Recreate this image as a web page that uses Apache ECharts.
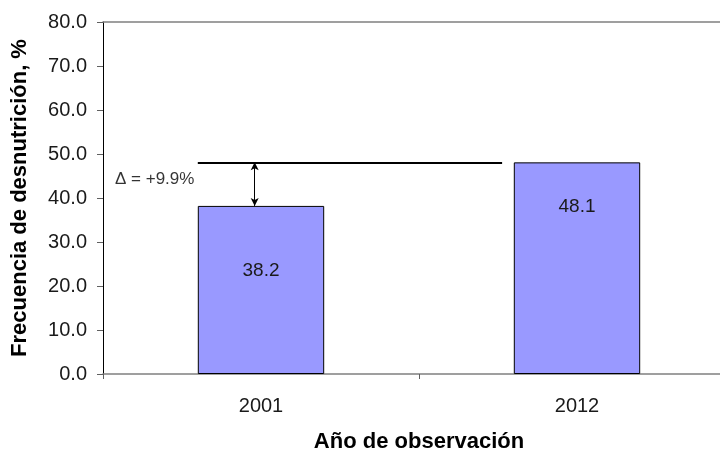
<!DOCTYPE html>
<html>
<head>
<meta charset="utf-8">
<script src="https://cdn.jsdelivr.net/npm/echarts@6/dist/echarts.min.js"></script>
<style>
  html, body { margin: 0; padding: 0; background: #fff; }
  #chart { width: 720px; height: 453px; }
</style>
</head>
<body>
<div id="chart"></div>
<script>
// datos
const years = ['2001', '2012']
const frecuencia = [38.2, 48.1]
const yTicks = { min: 0, max: 80, interval: 10 }

// distancia de la etiqueta desde el borde superior de cada barra
const labelDist = [55, 35]

const font = 'Liberation Sans, Arial, sans-serif'
const delta = (frecuencia[1] - frecuencia[0]).toFixed(1)

const chart = echarts.init(document.getElementById('chart'))
chart.setOption({
  animation: false,
  backgroundColor: '#fff',
  grid: {
    left: 103, top: 22, width: 632, height: 352,
    containLabel: false, outerBoundsMode: 'none'
  },
  xAxis: [
    {
      type: 'category',
      data: years,
      position: 'bottom',
      boundaryGap: true,
      axisLine: { lineStyle: { color: '#808080', width: 1.5 } },
      axisTick: { show: true, length: 5, lineStyle: { color: '#606060' } },
      axisLabel: { fontFamily: font, fontSize: 20, color: '#1a1a1a', margin: 22 },
      name: 'Año de observación',
      nameLocation: 'middle',
      nameGap: 57,
      nameTextStyle: { fontFamily: font, fontSize: 22, fontWeight: 'bold', color: '#000' }
    },
    {
      // eje auxiliar: borde superior y anotación
      type: 'value',
      min: 0, max: 2,
      position: 'top',
      axisLine: { show: true, lineStyle: { color: '#808080', width: 1.5 } },
      axisTick: { show: false },
      axisLabel: { show: false },
      splitLine: { show: false }
    }
  ],
  yAxis: {
    type: 'value',
    min: yTicks.min, max: yTicks.max, interval: yTicks.interval,
    axisLine: { show: true, lineStyle: { color: '#000', width: 1 } },
    axisTick: { show: true, length: 6, lineStyle: { color: '#606060' } },
    splitLine: { show: false },
    axisLabel: {
      fontFamily: font, fontSize: 20, color: '#1a1a1a', margin: 16,
      formatter: function (v) { return v.toFixed(1) }
    },
    name: 'Frecuencia de desnutrición, %',
    nameLocation: 'middle',
    nameRotate: 90,
    nameGap: 72,
    nameTextStyle: { fontFamily: font, fontSize: 22, fontWeight: 'bold', color: '#000' }
  },
  series: [
    {
      type: 'bar',
      barWidth: '40%',
      data: frecuencia.map(function (v, i) {
        return { value: v, label: { distance: labelDist[i] } }
      }),
      itemStyle: { color: '#9999ff', borderColor: '#000', borderWidth: 1 },
      label: {
        show: true,
        position: 'insideTop',
        fontFamily: font, fontSize: 19, color: '#1a1a1a',
        formatter: function (p) { return p.value.toFixed(1) }
      }
    },
    {
      // anotación de la diferencia
      type: 'scatter',
      xAxisIndex: 1,
      symbolSize: 0,
      data: [[0.038, 44.3]],
      label: {
        show: true,
        position: 'right',
        distance: 0,
        fontFamily: font, fontSize: 17, color: '#000',
        formatter: '\u0394 = +' + delta + '%'
      },
      markLine: {
        silent: true,
        label: { show: false },
        data: [
          [
            { coord: [0.3, frecuencia[1]], symbol: 'none', lineStyle: { width: 2 } },
            { coord: [1.263, frecuencia[1]], symbol: 'none' }
          ],
          [
            { coord: [0.48, frecuencia[1]], symbol: 'arrow', symbolSize: [6, 8] },
            { coord: [0.48, frecuencia[0]], symbol: 'arrow', symbolSize: [6, 8] }
          ]
        ],
        lineStyle: { color: '#000', width: 1, type: 'solid' }
      }
    }
  ]
})
</script>
</body>
</html>
